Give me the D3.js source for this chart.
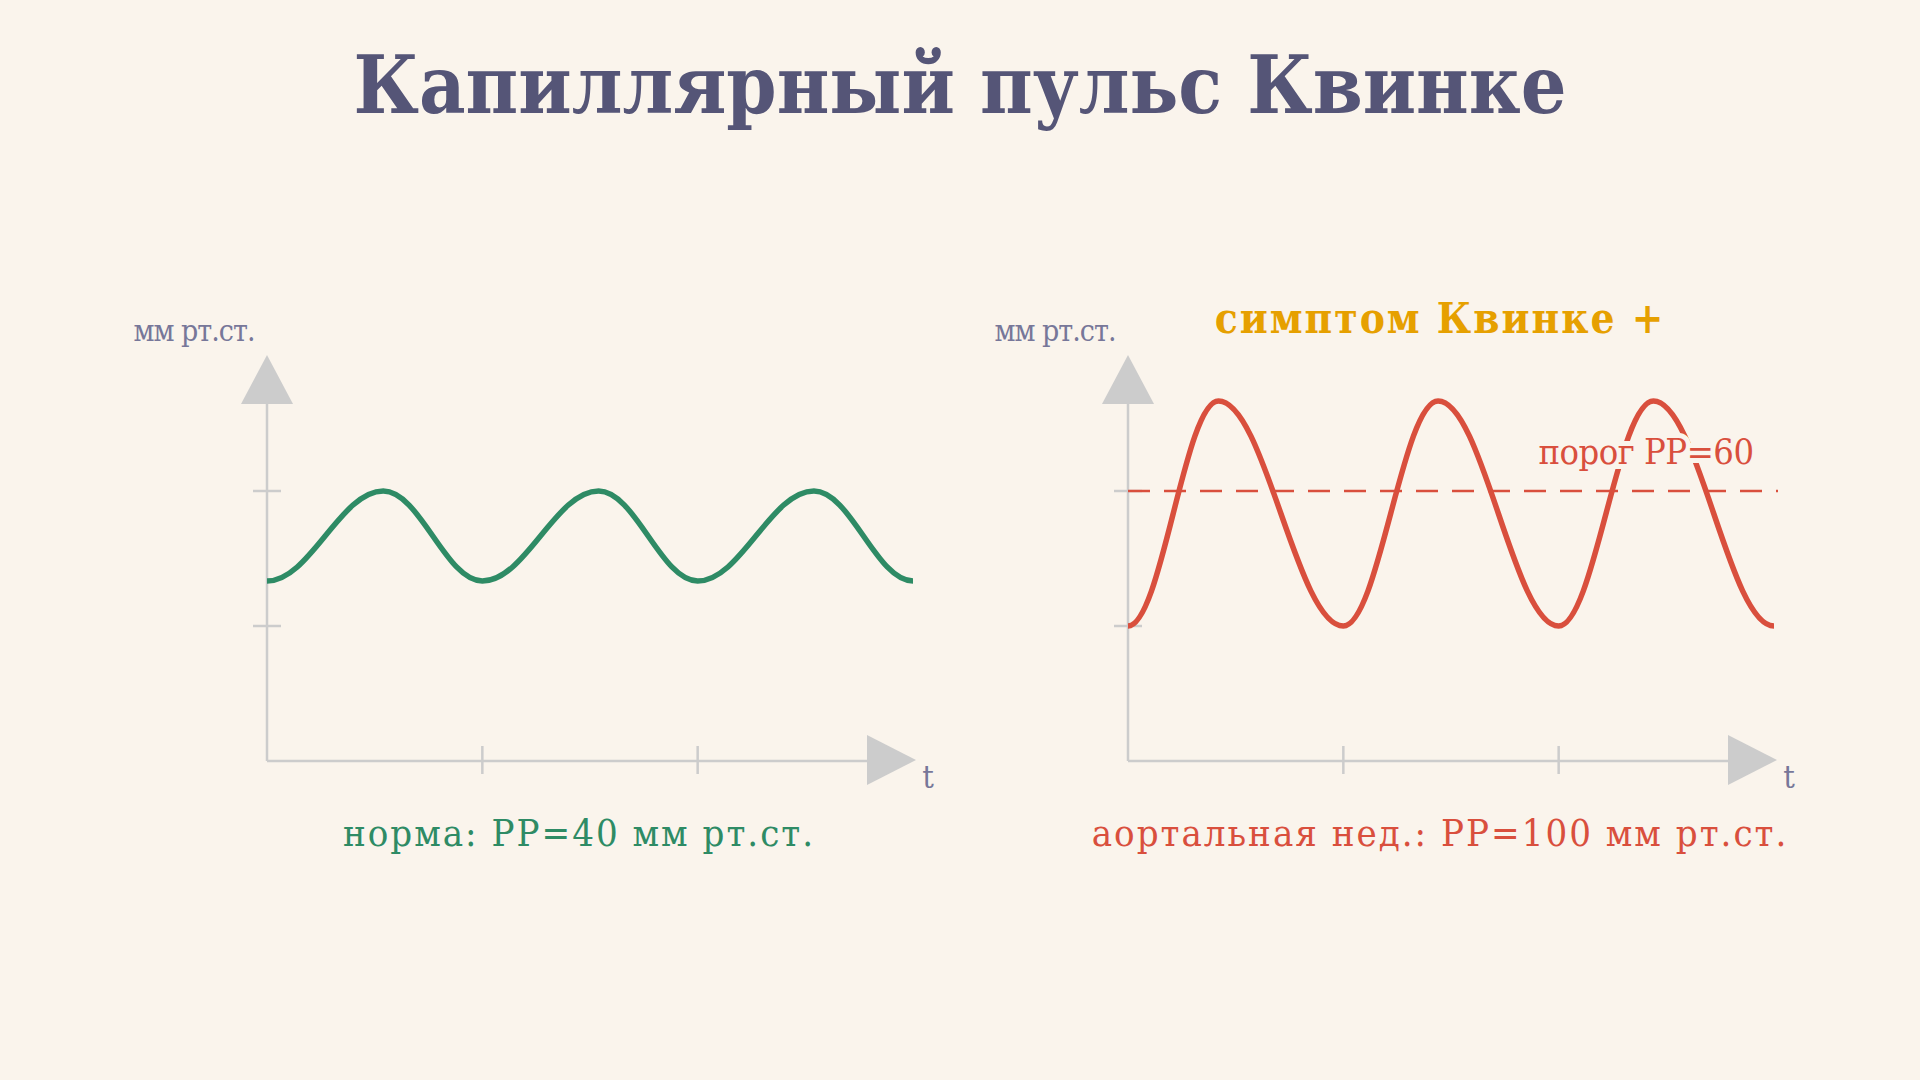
<!DOCTYPE html>
<html><head><meta charset="utf-8">
<script src="https://cdn.jsdelivr.net/npm/d3@7"></script>
<style>body{margin:0;background:#faf4ec}svg{display:block}text{font-stretch:condensed}</style>
</head><body>
<script>
const titleText = "Капиллярный пульс Квинке";
const yLabel = "мм рт.ст.";
const xLabel = "t";
const normT = [0, 0.54, 1, 1.54, 2, 2.54, 3];
const normP = [20, 60, 20, 60, 20, 60, 20];
const aiT = [0, 0.42, 1, 1.44, 2, 2.44, 3];
const aiP = [0, 100, 0, 100, 0, 100, 0];
const yTicks = [0, 60];
const xTicks = [1, 2];
const threshold = 60;
const panels = [
  {t: normT, p: normP, color: "#2e8b65", caption: "норма: РР=40 мм рт.ст.", ox: 267},
  {t: aiT, p: aiP, color: "#d94f3d", caption: "аортальная нед.: РР=100 мм рт.ст.", ox: 1128, threshold: true}
];
const W = 1920, H = 1080, F = "'DejaVu Serif Condensed', 'DejaVu Serif', serif", axisC = "#cccccc";
const svg = d3.select("body").append("svg").attr("width", W).attr("height", H);
svg.append("rect").attr("width", W).attr("height", H).attr("fill", "#faf4ec");
svg.append("text").attr("x", 960).attr("y", 113).attr("text-anchor", "middle")
  .attr("font-family", F).attr("font-weight", "bold").attr("font-size", 80).attr("fill", "#555577").text(titleText);
const y = d3.scaleLinear().domain([-60, 100]).range([761, 401]);
panels.forEach(pn => {
  const x = d3.scaleLinear().domain([0, 3]).range([pn.ox, pn.ox + 646]);
  const g = svg.append("g");
  g.append("line").attr("x1", pn.ox).attr("x2", pn.ox).attr("y1", y(-60)).attr("y2", 400).attr("stroke", axisC).attr("stroke-width", 2.5);
  g.append("line").attr("x1", pn.ox).attr("x2", pn.ox + 600).attr("y1", y(-60)).attr("y2", y(-60)).attr("stroke", axisC).attr("stroke-width", 2.5);
  g.append("path").attr("d", `M${pn.ox - 26},404 L${pn.ox},355 L${pn.ox + 26},404 Z`).attr("fill", axisC);
  g.append("path").attr("d", `M${pn.ox + 600},735 L${pn.ox + 649},760 L${pn.ox + 600},785 Z`).attr("fill", axisC);
  yTicks.forEach(v => g.append("line").attr("x1", pn.ox - 14).attr("x2", pn.ox + 14).attr("y1", y(v)).attr("y2", y(v)).attr("stroke", axisC).attr("stroke-width", 2.5));
  xTicks.forEach(v => g.append("line").attr("x1", x(v)).attr("x2", x(v)).attr("y1", 746).attr("y2", 774).attr("stroke", axisC).attr("stroke-width", 2.5));
  g.append("text").attr("x", pn.ox - 73).attr("y", 341).attr("text-anchor", "middle").attr("font-family", F).attr("font-size", 30).attr("fill", "#777799").attr("letter-spacing", -1).text(yLabel);
  g.append("text").attr("x", pn.ox + 661).attr("y", 788).attr("text-anchor", "middle").attr("font-family", F).attr("font-size", 32).attr("fill", "#777799").text(xLabel);
  if (pn.threshold) {
    g.append("line").attr("x1", pn.ox).attr("x2", pn.ox + 650).attr("y1", y(threshold)).attr("y2", y(threshold))
      .attr("stroke", "#d94f3d").attr("stroke-width", 2.5).attr("stroke-dasharray", "22,14");
  }
  // wave: half-wave cubic segments with horizontal tangents at each extremum
  const p = d3.path();
  pn.t.forEach((t, i) => {
    const X = x(t), Y = y(pn.p[i]);
    if (i === 0) { p.moveTo(X, Y); return; }
    const X0 = x(pn.t[i - 1]), Y0 = y(pn.p[i - 1]), k = (X - X0) * 0.37;
    p.bezierCurveTo(X0 + k, Y0, X - k, Y, X, Y);
  });
  g.append("path").attr("fill", "none").attr("stroke", pn.color).attr("stroke-width", 5.5).attr("d", p.toString());
  if (pn.threshold) {
    g.append("text").attr("x", pn.ox + 518).attr("y", 464).attr("text-anchor", "middle").attr("font-family", F).attr("font-size", 36)
      .attr("fill", "#d94f3d").attr("stroke", "#faf4ec").attr("stroke-width", 10).attr("paint-order", "stroke").attr("letter-spacing", -0.5).text("порог РР=" + threshold);
    g.append("text").attr("x", pn.ox + 312).attr("y", 333).attr("text-anchor", "middle").attr("font-family", F).attr("font-weight", "bold").attr("font-size", 42)
      .attr("fill", "#e6a000").attr("letter-spacing", 2).text("симптом Квинке +");
  }
  g.append("text").attr("x", pn.ox + 312).attr("y", 846).attr("text-anchor", "middle").attr("font-family", F).attr("font-size", 38)
    .attr("fill", pn.color).attr("letter-spacing", 2).text(pn.caption);
});
</script>
</body></html>
